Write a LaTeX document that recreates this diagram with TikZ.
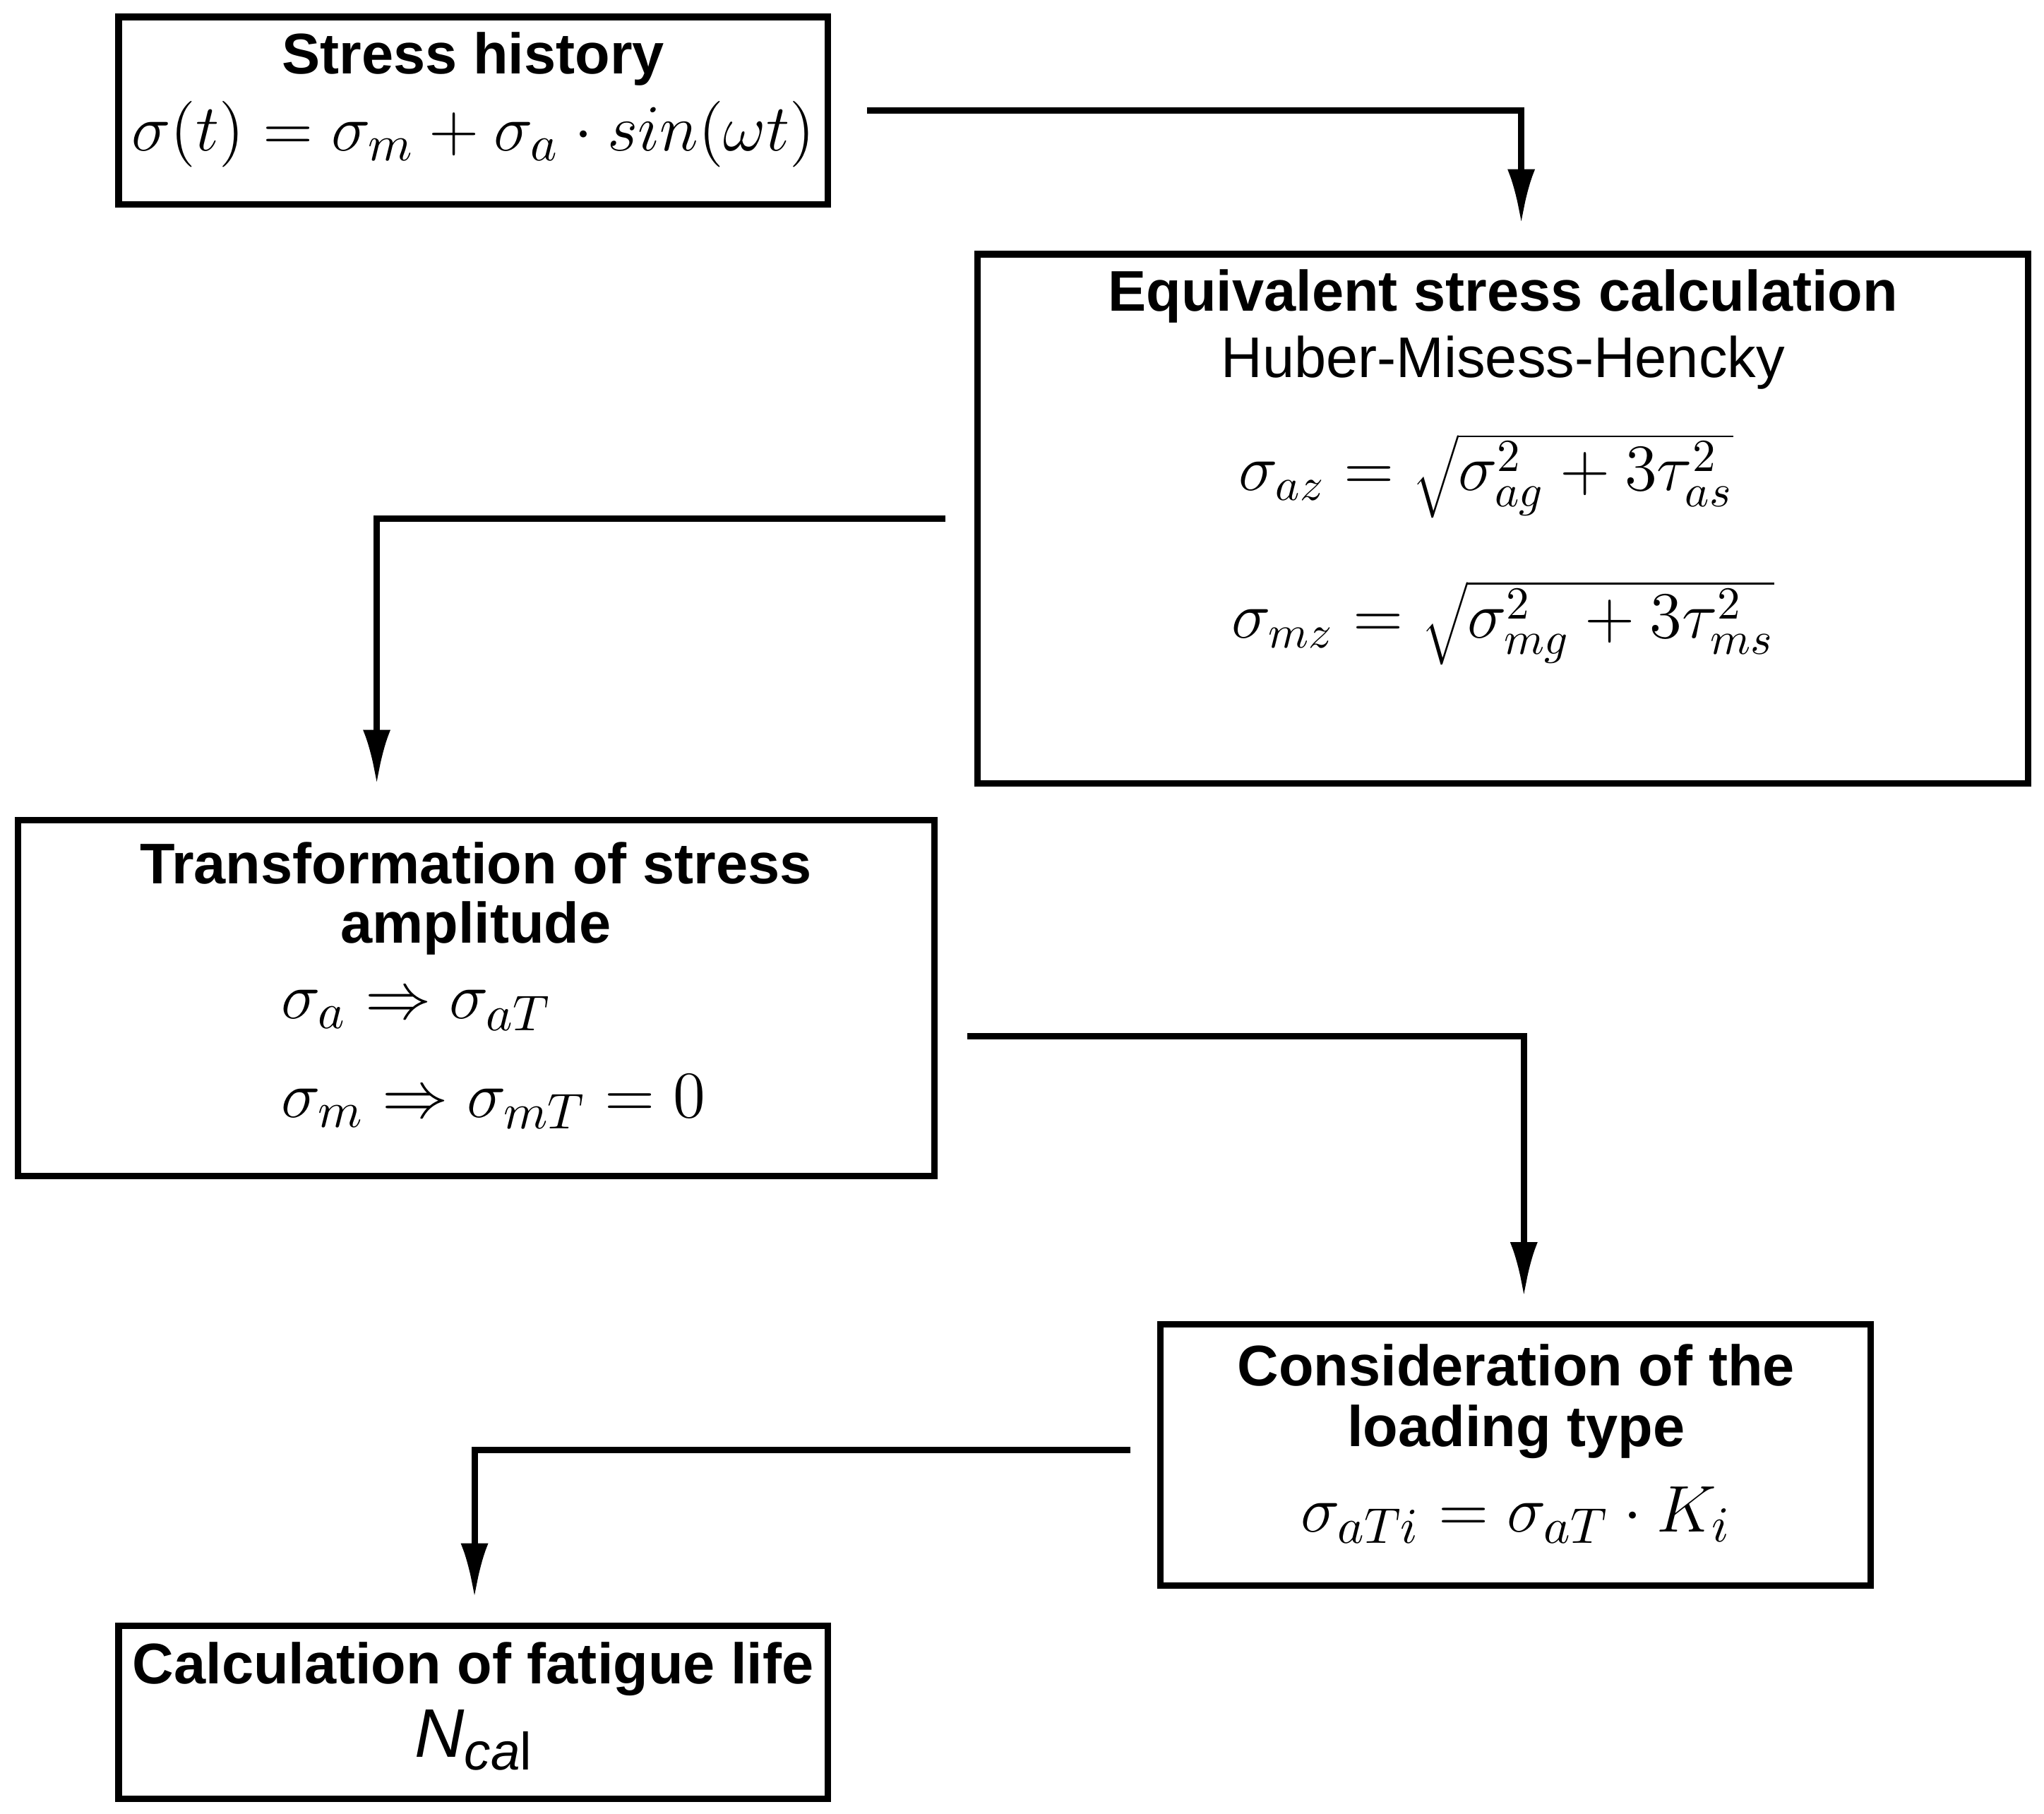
\documentclass[tikz,border=0pt]{standalone}
\usepackage{fontspec}
\setmainfont{Liberation Sans}
\usetikzlibrary{arrows.meta}
\begin{document}
\begin{tikzpicture}[x=0.01cm,y=-0.01cm,
 box/.style={draw,line width=1.4pt},
 ttl/.style={font=\fontsize{12.5}{15}\selectfont\bfseries,inner sep=0},
 txt/.style={font=\fontsize{12.5}{15}\selectfont,inner sep=0},
 mth/.style={font=\fontsize{15}{18}\selectfont,inner sep=0},
 arr/.style={line width=1.4pt,-{Latex[length=12pt,width=6pt]}}]
\useasboundingbox (0,0) rectangle (1568,1391);
\draw[box] (91,13) rectangle (635,157);
\draw[box] (750,195) rectangle (1556,601);
\draw[box] (14,629) rectangle (717,902);
\draw[box] (890,1016) rectangle (1435,1216);
\draw[box] (91,1247) rectangle (635,1380);
\node[ttl] (t1) at (363,45) {Stress history};
\node[mth] (f1) at (363,103) {$\sigma(t)=\sigma_m+\sigma_a\cdot sin(\omega t)$};
\node[ttl] (t2) at (1153,227) {Equivalent stress calculation};
\node[txt] (h2) at (1153,278) {Huber-Misess-Hencky};
\node[mth,font=\fontsize{14}{17}\selectfont] (f2) at (1140,365) {$\sigma_{az}=\sqrt{\sigma_{ag}^2+3\tau_{as}^2}$};
\node[mth,font=\fontsize{14}{17}\selectfont] (f3) at (1153,478) {$\sigma_{mz}=\sqrt{\sigma_{mg}^2+3\tau_{ms}^2}$};
\node[ttl] (t3) at (365,662) {Transformation of stress};
\node[ttl] (t3b) at (365,712) {amplitude};
\node[mth,anchor=west] (f4) at (215,775) {$\sigma_a\Rightarrow\sigma_{aT}$};
\node[mth,anchor=west] (f5) at (215,845) {$\sigma_m\Rightarrow\sigma_{mT}=0$};
\node[ttl] (t4) at (1163,1047) {Consideration of the};
\node[ttl] (t4b) at (1163,1098) {loading type};
\node[mth] (f6) at (1163,1162) {$\sigma_{aTi}=\sigma_{aT}\cdot K_i$};
\node[ttl] (t5) at (363,1280) {Calculation of fatigue life};
\node[mth] (f7) at (363,1335) {\textit{N}\raisebox{-0.35ex}{\fontsize{11.5}{13}\selectfont\textit{ca}l}};
\coordinate (a1) at (665,85); \coordinate (b1) at (1167,172);
\coordinate (a2) at (725,398); \coordinate (b2) at (289,602);
\coordinate (a3) at (742,795); \coordinate (b3) at (1169,995);
\coordinate (a4) at (867,1112); \coordinate (b4) at (364,1226);
\draw[arr] (a1) -| (b1);
\draw[arr] (a2) -| (b2);
\draw[arr] (a3) -| (b3);
\draw[arr] (a4) -| (b4);
\end{tikzpicture}
\end{document}
